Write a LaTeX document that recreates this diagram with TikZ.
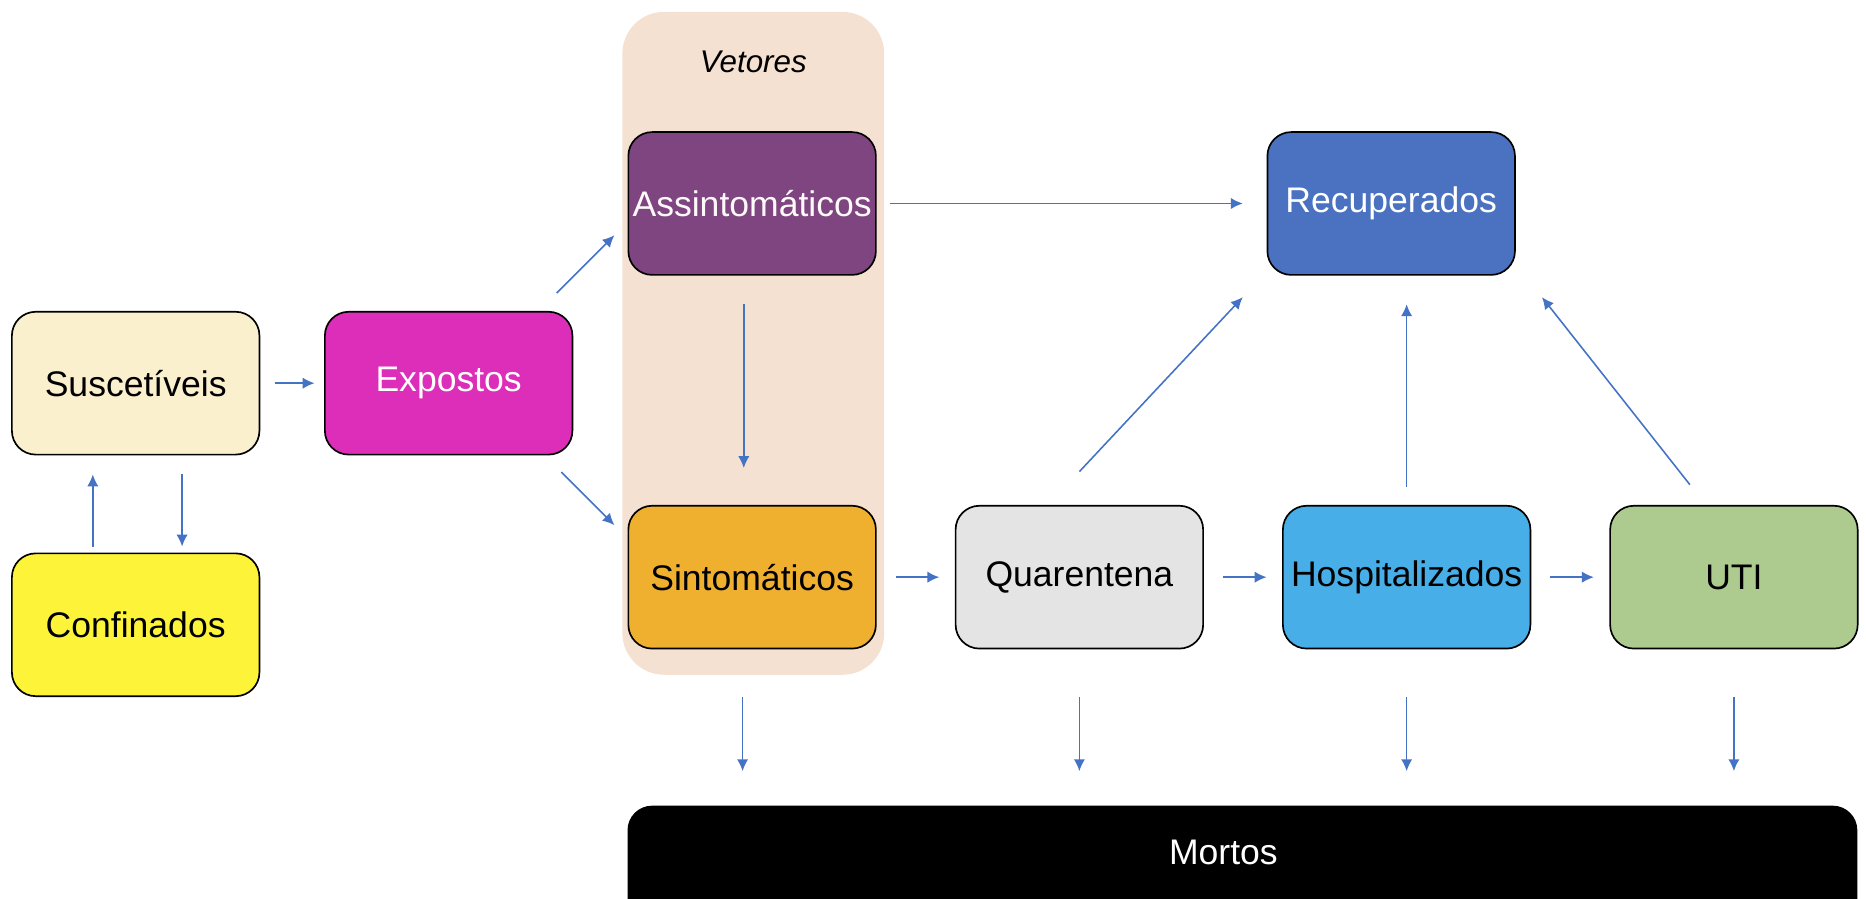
\documentclass[tikz,border=0pt]{standalone}
\usepackage{fontspec}
\setmainfont{Liberation Sans}
\usetikzlibrary{arrows.meta}
\definecolor{flowblue}{HTML}{4472C4}
\definecolor{suscfill}{HTML}{FAF0CD}
\definecolor{conffill}{HTML}{FDF43A}
\definecolor{expfill}{HTML}{DC2EB9}
\definecolor{vetfill}{HTML}{F4E1D2}
\definecolor{asifill}{HTML}{7E4580}
\definecolor{sinfill}{HTML}{EFB02F}
\definecolor{recfill}{HTML}{4A72C1}
\definecolor{quafill}{HTML}{E4E4E4}
\definecolor{hosfill}{HTML}{47AEE8}
\definecolor{utifill}{HTML}{ADCB8E}
\tikzset{box/.style={draw=black, line width=0.8pt, rounded corners=4mm, minimum width=41.6mm, minimum height=24mm, inner sep=0pt, font=\fontsize{17pt}{20pt}\selectfont},
         flow/.style={draw=flowblue, line width=0.75pt, -{Latex[length=2mm,width=1.9mm]}}}

\begin{document}
\begin{tikzpicture}[x=0.2mm,y=-0.2mm]
  \useasboundingbox (0,0) rectangle (1568,755);
  \fill[vetfill, rounded corners=7mm] (523,10) rectangle (743,567);
  \node[font=\fontsize{15pt}{18pt}\selectfont\itshape] (vet) at (633,52) {Vetores};
  \node[box, fill=suscfill] (sus) at (114,322) {Suscetíveis};
  \node[box, fill=conffill] (conf) at (114,525) {Confinados};
  \node[box, fill=expfill, text=white] (exp) at (377,322) {Expostos};
  \node[box, fill=asifill, text=white!92!pink] (asi) at (632,171) {Assintomáticos};
  \node[box, fill=sinfill] (sin) at (632,485) {Sintomáticos};
  \node[box, fill=recfill, text=white] (rec) at (1169,171) {Recuperados};
  \node[box, fill=quafill] (qua) at (907,485) {Quarentena};
  \node[box, fill=hosfill] (hos) at (1182,485) {Hospitalizados};
  \node[box, fill=utifill] (uti) at (1457,485) {UTI};
  \node[box, fill=black, text=white, anchor=north, minimum width=206.4mm, minimum height=0pt,
        text height=27.5pt, text depth=40pt] (mor) at (1044,677) {\hspace*{-6.4mm}Mortos};
  % fluxos
  \draw[flow, shorten <=2.4mm, shorten >=1.6mm] (sus) -- (exp);
  \draw[flow, shorten <=1mm, shorten >=3.2mm] ([shift={(-36,0)}]conf.north) -- ([shift={(-36,0)}]sus.south);
  \draw[flow, shorten <=3.2mm, shorten >=1mm] ([shift={(39,0)}]sus.south) -- ([shift={(39,0)}]conf.north);
  \draw[flow] ([shift={(-14,-15)}]exp.north east) -- ([shift={(-11,-34)}]asi.south west);
  \draw[flow] ([shift={(-10,14)}]exp.south east) -- ([shift={(-11,17)}]sin.north west);
  \draw[flow, shorten <=2.2mm, shorten >=4mm] (asi) -- (rec);
  \draw[flow, shorten <=4.8mm, shorten >=6.2mm] ([shift={(-7,0)}]asi.south) -- ([shift={(-7,0)}]sin.north);
  \draw[flow, shorten <=3.2mm, shorten >=2.6mm] (sin) -- (qua);
  \draw[flow, shorten <=3.2mm, shorten >=2.6mm] (qua) -- (hos);
  \draw[flow, shorten <=3.2mm, shorten >=2.6mm] (hos) -- (uti);
  \draw[flow] ([shift={(0,-28)}]qua.north) -- ([shift={(-20,18)}]rec.south west);
  \draw[flow, shorten <=3mm, shorten >=4.8mm] (hos.north) -- (hos.north |- rec.south);
  \draw[flow] ([shift={(-37,-17)}]uti.north) -- ([shift={(22,18)}]rec.south east);
  % mortos
  \draw[flow, shorten <=8mm, shorten >=5.8mm] ([shift={(-8,0)}]sin.south) -- ([shift={(-8,0)}]sin.south |- mor.north);
  \foreach \n in {qua,hos,uti}
    \draw[flow, shorten <=8mm, shorten >=5.8mm] (\n.south) -- (\n.south |- mor.north);
\end{tikzpicture}
\end{document}
